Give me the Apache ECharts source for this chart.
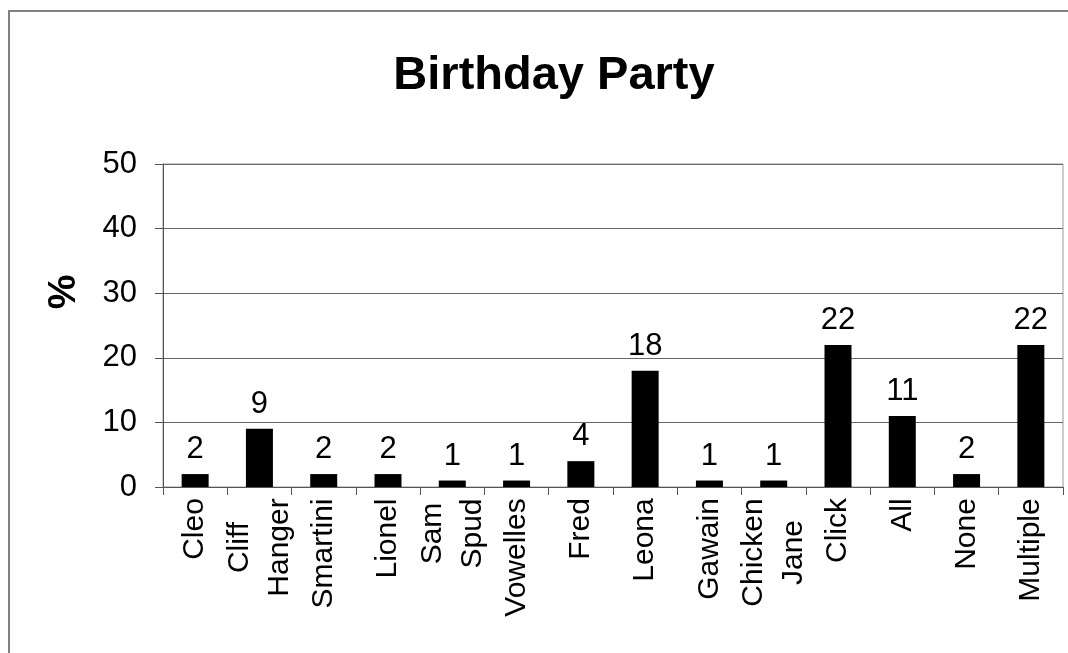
<!DOCTYPE html>
<html>
<head>
<meta charset="utf-8">
<script src="https://cdn.jsdelivr.net/npm/echarts@6/dist/echarts.min.js"></script>
<style>
  html, body { margin: 0; padding: 0; background: #fff; }
  #chart { width: 1068px; height: 653px; }
</style>
</head>
<body>
<div id="chart"></div>
<script>
// chart data
const categories = ['Cleo', 'Cliff\nHanger', 'Smartini', 'Lionel', 'Sam\nSpud', 'Vowelles', 'Fred',
  'Leona', 'Gawain', 'Chicken\nJane', 'Click', 'All', 'None', 'Multiple'];
const percents = [2, 9, 2, 2, 1, 1, 4, 18, 1, 1, 22, 11, 2, 22];
const yTicks = [0, 10, 20, 30, 40, 50];

const FONT = '"Liberation Sans", Arial, sans-serif';
const LABEL_SIZE = 30;

// measure lines so wrapped labels are centred line by line (like the original)
const ctx = document.createElement('canvas').getContext('2d');
ctx.font = LABEL_SIZE + 'px ' + FONT;
const rich = {};
categories.forEach((c, i) => {
  const w = Math.max(...c.split('\n').map(l => ctx.measureText(l).width));
  rich['l' + i] = {
    width: Math.ceil(w) + 2,
    align: 'center',
    fontSize: LABEL_SIZE,
    fontFamily: FONT,
    color: '#000',
    lineHeight: 40
  };
});

const chart = echarts.init(document.getElementById('chart'));

const option = {
  animation: false,
  backgroundColor: '#fff',
  textStyle: { fontFamily: FONT },
  title: {
    text: 'Birthday Party',
    left: 549,
    top: 48,
    textAlign: 'center',
    textStyle: { fontSize: 47, fontWeight: 'bold', color: '#000', fontFamily: FONT }
  },
  graphic: [
    {
      type: 'rect',
      shape: { x: 9, y: 11, width: 1150, height: 700 },
      style: { fill: 'none', stroke: '#808080', lineWidth: 2 },
      silent: true
    },
    {
      type: 'text',
      x: 64,
      y: 292,
      rotation: Math.PI / 2,
      style: {
        text: '%',
        font: 'bold 39px ' + FONT,
        fill: '#000',
        textAlign: 'center',
        textVerticalAlign: 'middle'
      }
    }
  ],
  grid: {
    left: 163,
    top: 164,
    right: 5,
    bottom: 166,
    show: true,
    borderColor: '#9a9a9a',
    borderWidth: 1,
    outerBoundsMode: 'none'
  },
  xAxis: {
    type: 'category',
    data: categories,
    axisLine: { lineStyle: { color: '#555', width: 1 } },
    axisTick: { show: true, length: 8, lineStyle: { color: '#555' } },
    axisLabel: {
      interval: 0,
      rotate: 90,
      margin: 10,
      formatter: (v, i) => v.split('\n').map(l => '{l' + i + '|' + l + '}').join('\n'),
      rich: rich
    }
  },
  yAxis: {
    type: 'value',
    min: yTicks[0],
    max: yTicks[yTicks.length - 1],
    interval: 10,
    axisLine: { show: true, lineStyle: { color: '#555', width: 1 } },
    axisTick: { show: true, length: 8, lineStyle: { color: '#555' } },
    axisLabel: { fontSize: 31, color: '#000', margin: 26, fontFamily: FONT },
    splitLine: { show: true, lineStyle: { color: '#666', width: 1 } }
  },
  series: [
    {
      type: 'bar',
      data: percents,
      barWidth: 27,
      itemStyle: { color: '#000' },
      label: {
        show: true,
        position: 'top',
        distance: 9,
        fontSize: 31,
        color: '#000',
        fontFamily: FONT
      }
    }
  ]
};

chart.setOption(option);
</script>
</body>
</html>
